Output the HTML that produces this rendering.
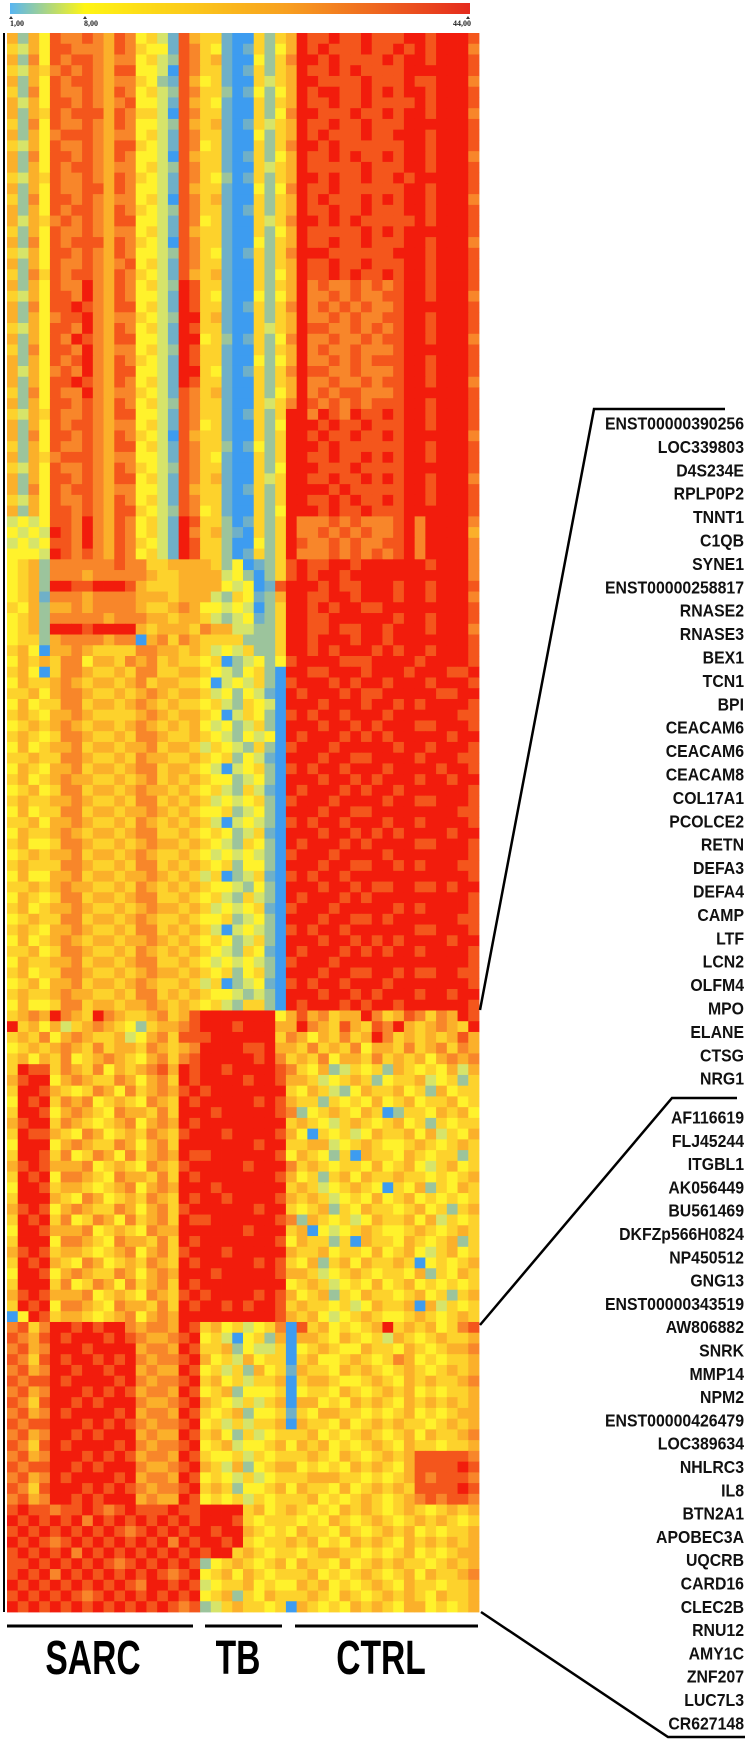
<!DOCTYPE html>
<html><head><meta charset="utf-8"><style>
html,body{margin:0;padding:0;background:#fff;width:747px;height:1741px;overflow:hidden}
svg{display:block}
.gene{font-family:"Liberation Sans",sans-serif;font-weight:bold;font-size:18px;fill:#111}
.grp{font-family:"Liberation Sans",sans-serif;font-weight:bold;font-size:48px;fill:#000}
.tk{font-family:"Liberation Serif",serif;font-weight:bold;font-size:8px;fill:#222}
</style></head><body>
<svg id="chart" width="747" height="1741" viewBox="0 0 747 1741" xmlns="http://www.w3.org/2000/svg">
<defs><linearGradient id="cb" x1="0" x2="1" y1="0" y2="0">
<stop offset="0" stop-color="#58b6f2"/><stop offset="0.163" stop-color="#fff514"/><stop offset="0.6" stop-color="#f8a020"/><stop offset="1" stop-color="#e52b1e"/></linearGradient></defs>
<g>
<rect x="10" y="3" width="460" height="11" fill="url(#cb)"/>
<path d="M9 19 L11 16 L13 19 Z" fill="#333"/>
<path d="M83 19 L85 16 L87 19 Z" fill="#333"/>
<path d="M466 19 L468 16 L470 19 Z" fill="#333"/>
<text class="tk" x="10" y="26">1,00</text>
<text class="tk" x="84" y="26">8,00</text>
<text class="tk" x="471" y="26" text-anchor="end">44,00</text>
</g>
<line x1="4" y1="33" x2="4" y2="1612" stroke="#000" stroke-width="2"/>
<g id="cells"></g>
<g>
<line x1="7" y1="1626" x2="193" y2="1626" stroke="#000" stroke-width="3"/>
<line x1="205" y1="1626" x2="282" y2="1626" stroke="#000" stroke-width="3"/>
<line x1="295" y1="1626" x2="478" y2="1626" stroke="#000" stroke-width="3"/>
<text class="grp" transform="translate(93,1674) scale(0.7,1)" text-anchor="middle">SARC</text>
<text class="grp" transform="translate(238,1674) scale(0.7,1)" text-anchor="middle">TB</text>
<text class="grp" transform="translate(381,1674) scale(0.7,1)" text-anchor="middle">CTRL</text>
</g>
<g fill="none" stroke="#000" stroke-width="2.5">
<polyline points="725,409 594,409 480,1010"/>
<polyline points="737,1098 672,1098 480,1325"/>
<polyline points="481,1612 668,1737 745,1737"/>
</g>
<g id="genes" transform="translate(744,0) scale(0.88,1)"></g>
</svg>
<script>
const rowLevels = [
"626487787687453186"+"55100525"+"698898898889989998",
"536488777687544187"+"54101524"+"698988898898989997",
"627487887677453287"+"56100425"+"799898888989989998",
"536578787688443087"+"55101525"+"698898988889999998",
"626487887677542186"+"45100535"+"699888898889889997",
"527487787687453287"+"55201424"+"698998898989989998",
"636488787678443186"+"54100525"+"698898898888989998",
"626587888687553087"+"55100524"+"799888988989989997",
"527487787687443286"+"56101535"+"698898898889999998",
"626478887677453187"+"55100425"+"698988898899989998",
"536487787688543187"+"45100525"+"799898888889989998",
"627488787687443086"+"55101524"+"698898988989989997",
"626487887677453287"+"55100535"+"698888898889989998",
"536587787687543187"+"54201525"+"699898898898999998",
"626487788687443186"+"55100424"+"798898888889989998",
"527488787677453087"+"56100525"+"698988898989989997",
"626487887687543287"+"55101525"+"698898898889989998",
"636578787688443187"+"45100535"+"799898988888989998",
"526487787677453186"+"55100524"+"698888898989999998",
"627487888687543087"+"55100425"+"698898898889989997",
"536488787687443287"+"54101525"+"799988888899989998",
"626487787678453187"+"55100525"+"698898898889989998",
"527587887687543186"+"56100524"+"698898988989989998",
"626487797687453298"+"55100525"+"697877878789989998",
"536488797687443198"+"54100424"+"697787877889989997",
"627488987688453198"+"55101525"+"797878787789999998",
"626478897677543299"+"56100525"+"697787877889989998",
"536488797687453198"+"55100535"+"698877878789989998",
"626487987688443199"+"45201524"+"797787787889989997",
"527488797677453298"+"55100525"+"697877877789999998",
"626487897687543198"+"55100424"+"697787878889989998",
"636478797688443199"+"54101525"+"798877877789989998",
"626488987687453198"+"55100525"+"697787787889989997",
"527487797677543187"+"56100524"+"697878877789999998",
"626488787687453287"+"55100535"+"798787878889989998",
"536587787688443187"+"55101525"+"997987988989989998",
"626487887677453187"+"45100524"+"999898898889989998",
"627488787687543086"+"55100525"+"998988988989999997",
"526487787688453187"+"55201425"+"999898888889989998",
"626578887677443187"+"54100525"+"998898898989989998",
"536487787687543287"+"55100524"+"999888988889999998",
"626488787688453187"+"56100535"+"998898898989989997",
"627487887677443186"+"55101525"+"999989888889989998",
"536487787687453187"+"55100525"+"998898988989989998",
"626488787688543287"+"45100524"+"999898898889999998",
"343488797687453198"+"55201525"+"977787877789799997",
"434398797687453197"+"56210525"+"977878787789799996",
"343488797687543198"+"55200425"+"987787877889799997",
"444398787687453198"+"55201525"+"977787878789799997",
"456277777787755666"+"65240125"+"898899899999989997",
"456277767777765566"+"66342025"+"898998999999999997",
"456299889998655566"+"66434018"+"999898899989989998",
"456177767777666566"+"63254126"+"998899899989989997",
"546266767777655676"+"44343025"+"998989988999999998",
"456277777677766566"+"53234125"+"998899999989989998",
"456299989999656665"+"76633225"+"998898899899989997",
"455267777677067576"+"55552225"+"998999899899999998",
"564066765555776656"+"53435225"+"998989998989989998",
"465657746657675655"+"45023424"+"899998889999899998",
"564057765565775566"+"54324520"+"998899989998999889",
"465567656656756655"+"40343520"+"899989899899989998",
"556467765565676566"+"53424310"+"989998988999998899",
"464557756656765655"+"45325430"+"999899989989899998",
"565466765555676566"+"54035420"+"898998999899999988",
"456567656656765656"+"43423520"+"999899898999889998",
"565457765565776556"+"54324340"+"989998989899999899",
"464566756656675665"+"35432520"+"899989999989989998",
"556557765565766556"+"54524310"+"999899889999899988",
"465466756656775665"+"43034520"+"898998999899998998",
"564567665565675656"+"54423420"+"999899898999899899",
"456457756656766565"+"45325310"+"989998989989999998",
"565566765565775656"+"53434520"+"899989999899889998",
"464557756656676565"+"44523420"+"999899889999999988",
"556466765565765656"+"53034320"+"898998999899899998",
"465567656656775565"+"45423510"+"999899898989999899",
"564457765565676656"+"54325420"+"989998989999889998",
"456566756656765565"+"43434320"+"899989999899999998",
"565557765565775656"+"54524420"+"999899889989899988",
"464466756656676565"+"35023510"+"898998999999999998",
"556567665565765656"+"54432420"+"999899898899889899",
"465457756656775565"+"45325320"+"989998989999999998",
"564566765565676656"+"53434510"+"899989999989899998",
"456557756656765565"+"44523420"+"999899889899999988",
"565466765565775656"+"53034320"+"898998999999889998",
"464567656656676565"+"45423520"+"999899898989999899",
"556457765565765656"+"54325410"+"989998989899899998",
"465566756656775565"+"43434320"+"899989999999999998",
"564557765565676656"+"54524520"+"999899889989889988",
"456466756656765565"+"35023410"+"898998999899999998",
"565567665565775656"+"54432320"+"999899898999899899",
"464457756656676565"+"45325520"+"989998989989999998",
"567697659765567568"+"99999994"+"686756697568757698",
"956463567654256678"+"99989996"+"697658658796567659",
"565746765563467588"+"89999995"+"764657569756565686",
"456567657566576567"+"99998896"+"657565746657567576",
"564657456765467578"+"99999897"+"565746657565646767",
"598857657465678698"+"99899998"+"754623545265454636",
"689946765576467598"+"99998998"+"665345652455634525",
"599865457647567689"+"89999999"+"546532465564526455",
"498957674565476598"+"99999898"+"655254546456455645",
"599846765476657599"+"98999998"+"724565465025546564",
"689957654567467698"+"99999999"+"565435654564525455",
"598865476456576589"+"99899998"+"640545346556463546",
"499946765576467599"+"99999899"+"556634565445654565",
"599857457647567698"+"89999998"+"465425065546545525",
"689866674565476589"+"99998999"+"756545546456435645",
"598947765476657598"+"99999998"+"645256465565545456",
"499856654567467699"+"98999999"+"565345654054625465",
"599965476456576598"+"99899998"+"656534546456454545",
"689846765576467589"+"99999899"+"545625465545645256",
"598957457647567598"+"89999998"+"726545346556463545",
"499866674565476699"+"99998999"+"560434565445654565",
"599947765476657598"+"99999998"+"465525065546545625",
"689856654567467589"+"99899999"+"655645546456435645",
"598965476456576598"+"99999898"+"546256465565045456",
"499846765576467699"+"98999998"+"665345654554625465",
"599957457647567598"+"99999999"+"456534546456454545",
"689866674565476589"+"89999898"+"645625465545645256",
"598947765476657598"+"99898998"+"565545346556063545",
"049856654567467699"+"99999998"+"656434565445654565",
"785799898997677698"+"56453457"+"085645456956564578",
"876898999898766789"+"45304526"+"066546545365456556",
"786799989999677698"+"55624335"+"045654465546545667",
"875898998989767789"+"64536455"+"056445654576454556",
"786799899899676698"+"45352645"+"165546565456545656",
"878898999989767789"+"56453556"+"056654456546565567",
"786799989898677698"+"45624445"+"045546545656454556",
"875899898999766789"+"65435356"+"066454656546565656",
"786798999989677698"+"54562445"+"154665545456454566",
"878899989898767789"+"45353556"+"065546456565545656",
"786799898999676698"+"56425345"+"556454565456465567",
"875898999989767789"+"45634456"+"465645456546554556",
"786799989898677698"+"54453545"+"556546545656888887",
"878899898999766789"+"65362456"+"645454656546888898",
"786798999989677698"+"45435345"+"556665545456878887",
"875899989898767789"+"56524456"+"465546456565888898",
"786799898999676698"+"45453545"+"556454565456787887",
"898878898789888988"+"99995645"+"654546565456545656",
"989898979898989898"+"99985455"+"545465456545656545",
"898989898987898989"+"98996545"+"465546545656454556",
"989878989898989798"+"99895455"+"656454656546565656",
"898989798989898989"+"89956545"+"545665545456454566",
"889898989878989898"+"24565456"+"465546456565545656",
"898979898989898789"+"45646545"+"556454565456465567",
"989898989898799898"+"34556454"+"465645456546554556",
"898989878989898989"+"45625465"+"556546545656546556",
"989898989898989878"+"23565545"+"065454656546645456"
];
const levelColors = ["#3d9cf0","#6fb0c8","#9cc49c","#d6e46a","#fff22c","#fdd22c","#fbb02a","#f8862a","#f4561c","#f21c0c"];
const genesTop = ["ENST00000390256","LOC339803","D4S234E","RPLP0P2","TNNT1","C1QB","SYNE1","ENST00000258817","RNASE2","RNASE3","BEX1","TCN1","BPI","CEACAM6","CEACAM6","CEACAM8","COL17A1","PCOLCE2","RETN","DEFA3","DEFA4","CAMP","LTF","LCN2","OLFM4","MPO","ELANE","CTSG","NRG1"];
const genesBottom = ["AF116619","FLJ45244","ITGBL1","AK056449","BU561469","DKFZp566H0824","NP450512","GNG13","ENST00000343519","AW806882","SNRK","MMP14","NPM2","ENST00000426479","LOC389634","NHLRC3","IL8","BTN2A1","APOBEC3A","UQCRB","CARD16","CLEC2B","RNU12","AMY1C","ZNF207","LUC7L3","CR627148"];

const NS="http://www.w3.org/2000/svg";
const X0=7,X1=479,Y0=33,Y1=1612;
const nRows=rowLevels.length, nCols=rowLevels[0].length;
const cw=(X1-X0)/nCols, rh=(Y1-Y0)/nRows;
function xScale(c){return X0+c*cw;}
function yScale(r){return Y0+r*rh;}
const g=document.getElementById('cells');
rowLevels.forEach((row,r)=>{
  for(let c=0;c<nCols;c++){
    const rect=document.createElementNS(NS,'rect');
    rect.setAttribute('x',xScale(c).toFixed(2));
    rect.setAttribute('y',yScale(r).toFixed(2));
    rect.setAttribute('width',(cw+0.4).toFixed(2));
    rect.setAttribute('height',(rh+0.4).toFixed(2));
    rect.setAttribute('fill',levelColors[+row[c]]);
    
    
    g.appendChild(rect);
  }
});
const gg=document.getElementById('genes');
function addGenes(list,y0,step){
  list.forEach((name,i)=>{
    const t=document.createElementNS(NS,'text');
    t.setAttribute('x','0');
    t.setAttribute('y',(y0+i*step+6.5).toFixed(1));
    t.setAttribute('text-anchor','end');
    t.setAttribute('class','gene');
    t.textContent=name;
    
    
    gg.appendChild(t);
  });
}
addGenes(genesTop,423,23.4);
addGenes(genesBottom,1117,23.3);
</script>
</body></html>
